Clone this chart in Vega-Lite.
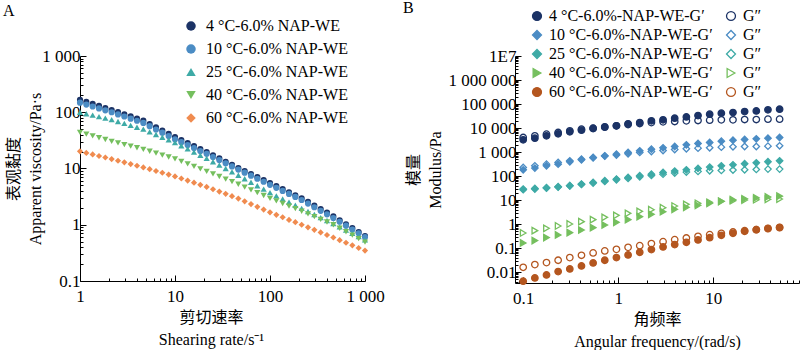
{
"$schema": "https://vega.github.io/schema/vega-lite/v6.json",
"background": "white",
"padding": {"left": 3, "top": 0, "right": 0, "bottom": 0},
"bounds": "flush",
"spacing": 150,
"resolve": {"scale": {"color": "independent", "shape": "independent", "stroke": "independent", "fill": "independent"}, "legend": {"color": "independent", "shape": "independent", "stroke": "independent", "fill": "independent"}},
"config": {
 "font": "Liberation Serif, Noto Sans CJK SC, serif",
 "view": {"stroke": null},
 "axis": {"labelFont": "Liberation Serif, serif", "labelFontSize": 17, "labelColor": "black", "titleFont": "Liberation Serif, Noto Sans CJK SC, serif", "titleFontSize": 16, "titleFontWeight": "normal", "titleColor": "black", "domainColor": "black", "tickColor": "black", "grid": false, "labelFlush": false, "labelOverlap": false, "labelBound": false, "titleLineHeight": 22},
 "legend": {"labelFont": "Liberation Serif, serif", "labelFontSize": 16, "labelColor": "black", "labelLimit": 400},
 "title": {"font": "Liberation Serif, serif", "fontSize": 16, "fontWeight": "normal", "color": "black"}
},
"datasets": {
"a": [
{"r":1,"s":"4","v":166},{"r":1.166,"s":"4","v":152.8},{"r":1.359,"s":"4","v":140.6},{"r":1.585,"s":"4","v":129.4},{"r":1.848,"s":"4","v":119.1},{"r":2.154,"s":"4","v":109.6},{"r":2.512,"s":"4","v":100.5},{"r":2.929,"s":"4","v":92},{"r":3.415,"s":"4","v":84.3},{"r":3.981,"s":"4","v":77.3},{"r":4.642,"s":"4","v":70.8},{"r":5.412,"s":"4","v":61.9},{"r":6.31,"s":"4","v":54.2},{"r":7.356,"s":"4","v":47.4},{"r":8.577,"s":"4","v":41.5},{"r":10,"s":"4","v":36.3},{"r":11.66,"s":"4","v":32.1},{"r":13.59,"s":"4","v":28.3},{"r":15.85,"s":"4","v":25},{"r":18.48,"s":"4","v":22.1},{"r":21.54,"s":"4","v":19.5},{"r":25.12,"s":"4","v":17.1},{"r":29.29,"s":"4","v":15.1},{"r":34.15,"s":"4","v":13.2},{"r":39.81,"s":"4","v":11.6},{"r":46.42,"s":"4","v":10.2},{"r":54.12,"s":"4","v":9.04},{"r":63.1,"s":"4","v":7.98},{"r":73.56,"s":"4","v":7.05},{"r":85.77,"s":"4","v":6.22},{"r":100,"s":"4","v":5.5},{"r":116.6,"s":"4","v":4.85},{"r":135.9,"s":"4","v":4.29},{"r":158.5,"s":"4","v":3.78},{"r":184.8,"s":"4","v":3.34},{"r":215.4,"s":"4","v":2.95},{"r":251.2,"s":"4","v":2.55},{"r":292.9,"s":"4","v":2.2},{"r":341.5,"s":"4","v":1.9},{"r":398.1,"s":"4","v":1.64},{"r":464.2,"s":"4","v":1.41},{"r":541.2,"s":"4","v":1.2},{"r":631,"s":"4","v":1.02},{"r":735.6,"s":"4","v":0.871},{"r":857.7,"s":"4","v":0.741},{"r":1000,"s":"4","v":0.631},
{"r":1,"s":"10","v":147.9},{"r":1.166,"s":"10","v":136.8},{"r":1.359,"s":"10","v":126.5},{"r":1.585,"s":"10","v":116.9},{"r":1.848,"s":"10","v":108.1},{"r":2.154,"s":"10","v":100},{"r":2.512,"s":"10","v":91.6},{"r":2.929,"s":"10","v":83.9},{"r":3.415,"s":"10","v":76.9},{"r":3.981,"s":"10","v":70.5},{"r":4.642,"s":"10","v":64.6},{"r":5.412,"s":"10","v":56.5},{"r":6.31,"s":"10","v":49.4},{"r":7.356,"s":"10","v":43.3},{"r":8.577,"s":"10","v":37.8},{"r":10,"s":"10","v":33.1},{"r":11.66,"s":"10","v":29.4},{"r":13.59,"s":"10","v":26.1},{"r":15.85,"s":"10","v":23.1},{"r":18.48,"s":"10","v":20.5},{"r":21.54,"s":"10","v":18.2},{"r":25.12,"s":"10","v":16},{"r":29.29,"s":"10","v":14.1},{"r":34.15,"s":"10","v":12.4},{"r":39.81,"s":"10","v":10.9},{"r":46.42,"s":"10","v":9.55},{"r":54.12,"s":"10","v":8.43},{"r":63.1,"s":"10","v":7.45},{"r":73.56,"s":"10","v":6.58},{"r":85.77,"s":"10","v":5.81},{"r":100,"s":"10","v":5.13},{"r":116.6,"s":"10","v":4.53},{"r":135.9,"s":"10","v":4},{"r":158.5,"s":"10","v":3.53},{"r":184.8,"s":"10","v":3.12},{"r":215.4,"s":"10","v":2.75},{"r":251.2,"s":"10","v":2.38},{"r":292.9,"s":"10","v":2.05},{"r":341.5,"s":"10","v":1.77},{"r":398.1,"s":"10","v":1.53},{"r":464.2,"s":"10","v":1.32},{"r":541.2,"s":"10","v":1.13},{"r":631,"s":"10","v":0.964},{"r":735.6,"s":"10","v":0.824},{"r":857.7,"s":"10","v":0.705},{"r":1000,"s":"10","v":0.603},
{"r":1,"s":"25","v":100},{"r":1.166,"s":"25","v":94.2},{"r":1.359,"s":"25","v":88.7},{"r":1.585,"s":"25","v":83.6},{"r":1.848,"s":"25","v":78.7},{"r":2.154,"s":"25","v":74.1},{"r":2.512,"s":"25","v":68.5},{"r":2.929,"s":"25","v":63.4},{"r":3.415,"s":"25","v":58.6},{"r":3.981,"s":"25","v":54.2},{"r":4.642,"s":"25","v":50.1},{"r":5.412,"s":"25","v":44.9},{"r":6.31,"s":"25","v":40.2},{"r":7.356,"s":"25","v":36},{"r":8.577,"s":"25","v":32.2},{"r":10,"s":"25","v":28.8},{"r":11.66,"s":"25","v":25.4},{"r":13.59,"s":"25","v":22.3},{"r":15.85,"s":"25","v":19.6},{"r":18.48,"s":"25","v":17.2},{"r":21.54,"s":"25","v":15.1},{"r":25.12,"s":"25","v":13.2},{"r":29.29,"s":"25","v":11.5},{"r":34.15,"s":"25","v":10},{"r":39.81,"s":"25","v":8.71},{"r":46.42,"s":"25","v":7.59},{"r":54.12,"s":"25","v":6.58},{"r":63.1,"s":"25","v":5.7},{"r":73.56,"s":"25","v":4.94},{"r":85.77,"s":"25","v":4.29},{"r":100,"s":"25","v":3.72},{"r":116.6,"s":"25","v":3.27},{"r":135.9,"s":"25","v":2.87},{"r":158.5,"s":"25","v":2.52},{"r":184.8,"s":"25","v":2.22},{"r":215.4,"s":"25","v":1.95},{"r":251.2,"s":"25","v":1.72},{"r":292.9,"s":"25","v":1.52},{"r":341.5,"s":"25","v":1.34},{"r":398.1,"s":"25","v":1.19},{"r":464.2,"s":"25","v":1.05},{"r":541.2,"s":"25","v":0.916},{"r":631,"s":"25","v":0.802},{"r":735.6,"s":"25","v":0.702},{"r":857.7,"s":"25","v":0.614},{"r":1000,"s":"25","v":0.537},
{"r":1,"s":"40","v":43.95},{"r":1.166,"s":"40","v":40.83},{"r":1.359,"s":"40","v":37.93},{"r":1.585,"s":"40","v":35.24},{"r":1.848,"s":"40","v":32.73},{"r":2.154,"s":"40","v":30.41},{"r":2.512,"s":"40","v":28.48},{"r":2.929,"s":"40","v":26.66},{"r":3.415,"s":"40","v":24.96},{"r":3.981,"s":"40","v":23.37},{"r":4.642,"s":"40","v":21.88},{"r":5.412,"s":"40","v":20.23},{"r":6.31,"s":"40","v":18.71},{"r":7.356,"s":"40","v":17.3},{"r":8.577,"s":"40","v":16},{"r":10,"s":"40","v":14.79},{"r":11.66,"s":"40","v":13.37},{"r":13.59,"s":"40","v":12.08},{"r":15.85,"s":"40","v":10.91},{"r":18.48,"s":"40","v":9.86},{"r":21.54,"s":"40","v":8.91},{"r":25.12,"s":"40","v":8.02},{"r":29.29,"s":"40","v":7.21},{"r":34.15,"s":"40","v":6.49},{"r":39.81,"s":"40","v":5.83},{"r":46.42,"s":"40","v":5.25},{"r":54.12,"s":"40","v":4.68},{"r":63.1,"s":"40","v":4.17},{"r":73.56,"s":"40","v":3.72},{"r":85.77,"s":"40","v":3.31},{"r":100,"s":"40","v":2.95},{"r":116.6,"s":"40","v":2.65},{"r":135.9,"s":"40","v":2.39},{"r":158.5,"s":"40","v":2.15},{"r":184.8,"s":"40","v":1.93},{"r":215.4,"s":"40","v":1.74},{"r":251.2,"s":"40","v":1.56},{"r":292.9,"s":"40","v":1.39},{"r":341.5,"s":"40","v":1.25},{"r":398.1,"s":"40","v":1.12},{"r":464.2,"s":"40","v":1},{"r":541.2,"s":"40","v":0.867},{"r":631,"s":"40","v":0.752},{"r":735.6,"s":"40","v":0.652},{"r":857.7,"s":"40","v":0.565},{"r":1000,"s":"40","v":0.49},
{"r":1,"s":"60","v":20.18},{"r":1.166,"s":"60","v":18.95},{"r":1.359,"s":"60","v":17.79},{"r":1.585,"s":"60","v":16.7},{"r":1.848,"s":"60","v":15.68},{"r":2.154,"s":"60","v":14.72},{"r":2.512,"s":"60","v":13.75},{"r":2.929,"s":"60","v":12.85},{"r":3.415,"s":"60","v":12},{"r":3.981,"s":"60","v":11.21},{"r":4.642,"s":"60","v":10.47},{"r":5.412,"s":"60","v":9.73},{"r":6.31,"s":"60","v":9.04},{"r":7.356,"s":"60","v":8.39},{"r":8.577,"s":"60","v":7.8},{"r":10,"s":"60","v":7.24},{"r":11.66,"s":"60","v":6.65},{"r":13.59,"s":"60","v":6.1},{"r":15.85,"s":"60","v":5.6},{"r":18.48,"s":"60","v":5.13},{"r":21.54,"s":"60","v":4.71},{"r":25.12,"s":"60","v":4.28},{"r":29.29,"s":"60","v":3.89},{"r":34.15,"s":"60","v":3.54},{"r":39.81,"s":"60","v":3.22},{"r":46.42,"s":"60","v":2.92},{"r":54.12,"s":"60","v":2.61},{"r":63.1,"s":"60","v":2.33},{"r":73.56,"s":"60","v":2.08},{"r":85.77,"s":"60","v":1.86},{"r":100,"s":"60","v":1.66},{"r":116.6,"s":"60","v":1.5},{"r":135.9,"s":"60","v":1.36},{"r":158.5,"s":"60","v":1.22},{"r":184.8,"s":"60","v":1.11},{"r":215.4,"s":"60","v":1},{"r":251.2,"s":"60","v":0.901},{"r":292.9,"s":"60","v":0.811},{"r":341.5,"s":"60","v":0.731},{"r":398.1,"s":"60","v":0.658},{"r":464.2,"s":"60","v":0.593},{"r":541.2,"s":"60","v":0.532},{"r":631,"s":"60","v":0.478},{"r":735.6,"s":"60","v":0.43},{"r":857.7,"s":"60","v":0.386},{"r":1000,"s":"60","v":0.347}
],
"b": [
{"f":0.1,"k":"4′","v":3220},{"f":0.1327,"k":"4′","v":3780},{"f":0.1759,"k":"4′","v":4730},{"f":0.2333,"k":"4′","v":5730},{"f":0.3095,"k":"4′","v":6930},{"f":0.4106,"k":"4′","v":8130},{"f":0.5446,"k":"4′","v":9540},{"f":0.7224,"k":"4′","v":10800},{"f":0.9582,"k":"4′","v":12300},{"f":1.271,"k":"4′","v":14900},{"f":1.686,"k":"4′","v":16900},{"f":2.236,"k":"4′","v":19900},{"f":2.966,"k":"4′","v":21900},{"f":3.934,"k":"4′","v":25600},{"f":5.218,"k":"4′","v":29100},{"f":6.921,"k":"4′","v":33100},{"f":9.182,"k":"4′","v":37600},{"f":12.18,"k":"4′","v":41400},{"f":16.15,"k":"4′","v":44100},{"f":21.42,"k":"4′","v":48500},{"f":28.42,"k":"4′","v":51700},{"f":37.7,"k":"4′","v":57000},{"f":50,"k":"4′","v":60700},
{"f":0.1,"k":"4″","v":4030},{"f":0.1327,"k":"4″","v":4730},{"f":0.1759,"k":"4″","v":5550},{"f":0.2333,"k":"4″","v":6510},{"f":0.3095,"k":"4″","v":7640},{"f":0.4106,"k":"4″","v":8960},{"f":0.5446,"k":"4″","v":9850},{"f":0.7224,"k":"4″","v":11200},{"f":0.9582,"k":"4″","v":12300},{"f":1.271,"k":"4″","v":14000},{"f":1.686,"k":"4″","v":15400},{"f":2.236,"k":"4″","v":16900},{"f":2.966,"k":"4″","v":18100},{"f":3.934,"k":"4″","v":18700},{"f":5.218,"k":"4″","v":19900},{"f":6.921,"k":"4″","v":20500},{"f":9.182,"k":"4″","v":21200},{"f":12.18,"k":"4″","v":21900},{"f":16.15,"k":"4″","v":21900},{"f":21.42,"k":"4″","v":22600},{"f":28.42,"k":"4″","v":22600},{"f":37.7,"k":"4″","v":23300},{"f":50,"k":"4″","v":23300},
{"f":0.1,"k":"10′","v":182},{"f":0.1327,"k":"10′","v":214},{"f":0.1759,"k":"10′","v":267},{"f":0.2333,"k":"10′","v":313},{"f":0.3095,"k":"10′","v":393},{"f":0.4106,"k":"10′","v":475},{"f":0.5446,"k":"10′","v":575},{"f":0.7224,"k":"10′","v":697},{"f":0.9582,"k":"10′","v":817},{"f":1.271,"k":"10′","v":959},{"f":1.686,"k":"10′","v":1125},{"f":2.236,"k":"10′","v":1320},{"f":2.966,"k":"10′","v":1500},{"f":3.934,"k":"10′","v":1700},{"f":5.218,"k":"10′","v":2000},{"f":6.921,"k":"10′","v":2270},{"f":9.182,"k":"10′","v":2500},{"f":12.18,"k":"10′","v":2840},{"f":16.15,"k":"10′","v":3120},{"f":21.42,"k":"10′","v":3330},{"f":28.42,"k":"10′","v":3550},{"f":37.7,"k":"10′","v":3780},{"f":50,"k":"10′","v":4030},
{"f":0.1,"k":"10″","v":228},{"f":0.1327,"k":"10″","v":267},{"f":0.1759,"k":"10″","v":313},{"f":0.2333,"k":"10″","v":368},{"f":0.3095,"k":"10″","v":431},{"f":0.4106,"k":"10″","v":506},{"f":0.5446,"k":"10″","v":594},{"f":0.7224,"k":"10″","v":675},{"f":0.9582,"k":"10″","v":743},{"f":1.271,"k":"10″","v":844},{"f":1.686,"k":"10″","v":959},{"f":2.236,"k":"10″","v":1055},{"f":2.966,"k":"10″","v":1160},{"f":3.934,"k":"10″","v":1277},{"f":5.218,"k":"10″","v":1360},{"f":6.921,"k":"10″","v":1452},{"f":9.182,"k":"10″","v":1500},{"f":12.18,"k":"10″","v":1597},{"f":16.15,"k":"10″","v":1650},{"f":21.42,"k":"10″","v":1703},{"f":28.42,"k":"10″","v":1703},{"f":37.7,"k":"10″","v":1760},{"f":50,"k":"10″","v":1815},
{"f":0.1,"k":"25′","v":27},{"f":0.1327,"k":"25′","v":28.6},{"f":0.1759,"k":"25′","v":31.5},{"f":0.2333,"k":"25′","v":34.7},{"f":0.3095,"k":"25′","v":39.4},{"f":0.4106,"k":"25′","v":46.2},{"f":0.5446,"k":"25′","v":54.2},{"f":0.7224,"k":"25′","v":63.6},{"f":0.9582,"k":"25′","v":74.6},{"f":1.271,"k":"25′","v":87.5},{"f":1.686,"k":"25′","v":103},{"f":2.236,"k":"25′","v":120},{"f":2.966,"k":"25′","v":141},{"f":3.934,"k":"25′","v":161},{"f":5.218,"k":"25′","v":182},{"f":6.921,"k":"25′","v":207},{"f":9.182,"k":"25′","v":235},{"f":12.18,"k":"25′","v":267},{"f":16.15,"k":"25′","v":294},{"f":21.42,"k":"25′","v":324},{"f":28.42,"k":"25′","v":356},{"f":37.7,"k":"25′","v":394},{"f":50,"k":"25′","v":431},
{"f":0.1,"k":"25″","v":28.6},{"f":0.1327,"k":"25″","v":30.5},{"f":0.1759,"k":"25″","v":32.5},{"f":0.2333,"k":"25″","v":35.8},{"f":0.3095,"k":"25″","v":39.4},{"f":0.4106,"k":"25″","v":44.8},{"f":0.5446,"k":"25″","v":50.9},{"f":0.7224,"k":"25″","v":59.7},{"f":0.9582,"k":"25″","v":70},{"f":1.271,"k":"25″","v":79.6},{"f":1.686,"k":"25″","v":93.3},{"f":2.236,"k":"25″","v":106},{"f":2.966,"k":"25″","v":120},{"f":3.934,"k":"25″","v":133},{"f":5.218,"k":"25″","v":146},{"f":6.921,"k":"25″","v":156},{"f":9.182,"k":"25″","v":166},{"f":12.18,"k":"25″","v":171},{"f":16.15,"k":"25″","v":177},{"f":21.42,"k":"25″","v":182},{"f":28.42,"k":"25″","v":188},{"f":37.7,"k":"25″","v":194},{"f":50,"k":"25″","v":194},
{"f":0.1,"k":"40′","v":0.163},{"f":0.1327,"k":"40′","v":0.204},{"f":0.1759,"k":"40′","v":0.272},{"f":0.2333,"k":"40′","v":0.35},{"f":0.3095,"k":"40′","v":0.438},{"f":0.4106,"k":"40′","v":0.565},{"f":0.5446,"k":"40′","v":0.706},{"f":0.7224,"k":"40′","v":0.912},{"f":0.9582,"k":"40′","v":1.18},{"f":1.271,"k":"40′","v":1.52},{"f":1.686,"k":"40′","v":2.03},{"f":2.236,"k":"40′","v":2.54},{"f":2.966,"k":"40′","v":3.27},{"f":3.934,"k":"40′","v":4.09},{"f":5.218,"k":"40′","v":4.95},{"f":6.921,"k":"40′","v":6},{"f":9.182,"k":"40′","v":7.26},{"f":12.18,"k":"40′","v":8.8},{"f":16.15,"k":"40′","v":10.3},{"f":21.42,"k":"40′","v":11.3},{"f":28.42,"k":"40′","v":12.3},{"f":37.7,"k":"40′","v":13.4},{"f":50,"k":"40′","v":14.5},
{"f":0.1,"k":"40″","v":0.424},{"f":0.1327,"k":"40″","v":0.531},{"f":0.1759,"k":"40″","v":0.664},{"f":0.2333,"k":"40″","v":0.83},{"f":0.3095,"k":"40″","v":1.005},{"f":0.4106,"k":"40″","v":1.256},{"f":0.5446,"k":"40″","v":1.52},{"f":0.7224,"k":"40″","v":1.9},{"f":0.9582,"k":"40″","v":2.3},{"f":1.271,"k":"40″","v":2.79},{"f":1.686,"k":"40″","v":3.38},{"f":2.236,"k":"40″","v":3.96},{"f":2.966,"k":"40″","v":4.8},{"f":3.934,"k":"40″","v":5.62},{"f":5.218,"k":"40″","v":6.6},{"f":6.921,"k":"40″","v":7.26},{"f":9.182,"k":"40″","v":8},{"f":12.18,"k":"40″","v":8.8},{"f":16.15,"k":"40″","v":9.38},{"f":21.42,"k":"40″","v":10},{"f":28.42,"k":"40″","v":10.3},{"f":37.7,"k":"40″","v":10.7},{"f":50,"k":"40″","v":11},
{"f":0.1,"k":"60′","v":0.00415},{"f":0.1327,"k":"60′","v":0.0057},{"f":0.1759,"k":"60′","v":0.0076},{"f":0.2333,"k":"60′","v":0.0105},{"f":0.3095,"k":"60′","v":0.0135},{"f":0.4106,"k":"60′","v":0.018},{"f":0.5446,"k":"60′","v":0.024},{"f":0.7224,"k":"60′","v":0.031},{"f":0.9582,"k":"60′","v":0.04},{"f":1.271,"k":"60′","v":0.0516},{"f":1.686,"k":"60′","v":0.0667},{"f":2.236,"k":"60′","v":0.086},{"f":2.966,"k":"60′","v":0.111},{"f":3.934,"k":"60′","v":0.139},{"f":5.218,"k":"60′","v":0.173},{"f":6.921,"k":"60′","v":0.217},{"f":9.182,"k":"60′","v":0.271},{"f":12.18,"k":"60′","v":0.339},{"f":16.15,"k":"60′","v":0.41},{"f":21.42,"k":"60′","v":0.497},{"f":28.42,"k":"60′","v":0.583},{"f":37.7,"k":"60′","v":0.663},{"f":50,"k":"60′","v":0.73},
{"f":0.1,"k":"60″","v":0.0158},{"f":0.1327,"k":"60″","v":0.0205},{"f":0.1759,"k":"60″","v":0.0248},{"f":0.2333,"k":"60″","v":0.031},{"f":0.3095,"k":"60″","v":0.04},{"f":0.4106,"k":"60″","v":0.05},{"f":0.5446,"k":"60″","v":0.0625},{"f":0.7224,"k":"60″","v":0.0757},{"f":0.9582,"k":"60″","v":0.0887},{"f":1.271,"k":"60″","v":0.1075},{"f":1.686,"k":"60″","v":0.126},{"f":2.236,"k":"60″","v":0.153},{"f":2.966,"k":"60″","v":0.185},{"f":3.934,"k":"60″","v":0.224},{"f":5.218,"k":"60″","v":0.262},{"f":6.921,"k":"60″","v":0.308},{"f":9.182,"k":"60″","v":0.361},{"f":12.18,"k":"60″","v":0.41},{"f":16.15,"k":"60″","v":0.467},{"f":21.42,"k":"60″","v":0.53},{"f":28.42,"k":"60″","v":0.583},{"f":37.7,"k":"60″","v":0.642},{"f":50,"k":"60″","v":0.707}
]
},
"hconcat": [
{
 "width": 285, "height": 225,
 "title": {"text": "A", "anchor": "start", "frame": "group", "dx": -77, "dy": 5},
 "data": {"name": "a"},
 "mark": {"type": "point", "filled": true, "size": 38, "opacity": 1},
 "encoding": {
  "x": {"field": "r", "type": "quantitative", "scale": {"type": "log", "domain": [1, 1000], "nice": false},
   "axis": {"values": [1,2,3,4,5,6,7,8,9,10,20,30,40,50,60,70,80,90,100,200,300,400,500,600,700,800,900,1000],
    "labelExpr": "abs(log(datum.value)/LN10 - round(log(datum.value)/LN10)) < 0.001 ? replace(format(datum.value, ','), /,/g, ' ') : ''",
    "tickSize": {"condition": {"test": "abs(log(datum.value)/LN10 - round(log(datum.value)/LN10)) < 0.001", "value": -6}, "value": -3},
    "labelPadding": 13, "title": ["剪切速率", "Shearing rate/s⁻¹"], "titlePadding": 2.5, "titleX": 131}},
  "y": {"field": "v", "type": "quantitative", "scale": {"type": "log", "domain": [0.1, 1000], "nice": false},
   "axis": {"values": [0.1,0.2,0.3,0.4,0.5,0.6,0.7,0.8,0.9,1,2,3,4,5,6,7,8,9,10,20,30,40,50,60,70,80,90,100,200,300,400,500,600,700,800,900,1000],
    "labelExpr": "abs(log(datum.value)/LN10 - round(log(datum.value)/LN10)) < 0.001 ? replace(format(datum.value, ','), /,/g, ' ') : ''",
    "tickSize": {"condition": {"test": "abs(log(datum.value)/LN10 - round(log(datum.value)/LN10)) < 0.001", "value": -6}, "value": -3},
    "labelPadding": 6, "title": ["表观黏度", "Apparent viscosity/Pa·s"], "titlePadding": -2}},
  "color": {"field": "s", "type": "nominal", "scale": {"domain": ["4","10","25","40","60"], "range": ["#1c3366","#4b8cc4","#3eaaa6","#75bf5e","#f08b4f"]},
   "legend": {"orient": "none", "legendX": 103, "legendY": -38, "title": null, "padding": 0, "rowPadding": 7, "labelOffset": 7, "symbolSize": 90, "symbolOpacity": 1,
    "labelExpr": "datum.label + ' °C-6.0% NAP-WE'"}},
  "shape": {"field": "s", "type": "nominal", "scale": {"domain": ["4","10","25","40","60"], "range": ["circle","circle","triangle-up","triangle-down","diamond"]}}
 }
},
{
 "width": 284, "height": 227,
 "title": {"text": "B", "anchor": "start", "frame": "group", "dx": -112, "dy": 12},
 "data": {"name": "b"},
 "mark": {"type": "point", "size": 42, "strokeWidth": 1.3, "opacity": 1},
 "encoding": {
  "x": {"field": "f", "type": "quantitative", "scale": {"type": "log", "domain": [0.082, 80], "nice": false},
   "axis": {"values": [0.09,0.1,0.2,0.3,0.4,0.5,0.6,0.7,0.8,0.9,1,2,3,4,5,6,7,8,9,10,20,30,40,50,60,70,80],
    "labelExpr": "abs(log(datum.value)/LN10 - round(log(datum.value)/LN10)) < 0.001 ? replace(format(datum.value, ','), /,/g, ' ') : ''",
    "tickSize": {"condition": {"test": "abs(log(datum.value)/LN10 - round(log(datum.value)/LN10)) < 0.001", "value": -6}, "value": -3},
    "labelPadding": 13, "title": ["角频率", "Angular frequency/(rad/s)"], "titlePadding": 2.5}},
  "y": {"field": "v", "type": "quantitative", "scale": {"type": "log", "domain": [0.0035, 10000000], "nice": false},
   "axis": {"values": [0.004,0.005,0.006,0.007,0.008,0.009,0.01,0.02,0.03,0.04,0.05,0.06,0.07,0.08,0.09,0.1,0.2,0.3,0.4,0.5,0.6,0.7,0.8,0.9,1,2,3,4,5,6,7,8,9,10,20,30,40,50,60,70,80,90,100,200,300,400,500,600,700,800,900,1000,2000,3000,4000,5000,6000,7000,8000,9000,10000,20000,30000,40000,50000,60000,70000,80000,90000,100000,200000,300000,400000,500000,600000,700000,800000,900000,1000000,2000000,3000000,4000000,5000000,6000000,7000000,8000000,9000000,10000000],
    "labelExpr": "abs(log(datum.value)/LN10 - round(log(datum.value)/LN10)) < 0.001 ? (datum.value >= 9999999 ? '1E7' : replace(format(datum.value, ','), /,/g, ' ')) : ''",
    "tickSize": {"condition": {"test": "abs(log(datum.value)/LN10 - round(log(datum.value)/LN10)) < 0.001", "value": -6}, "value": -3},
    "labelPadding": 5, "title": ["模量", "Modulus/Pa"], "titlePadding": 5}},
  "stroke": {"field": "k", "type": "nominal", "scale": {"domain": ["4′","10′","25′","40′","60′","4″","10″","25″","40″","60″"], "range": ["#1c3366","#4b8cc4","#3eaaa6","#75bf5e","#b4561f","#1c3366","#4b8cc4","#3eaaa6","#75bf5e","#b4561f"]},
   "legend": {"orient": "none", "legendX": 14, "legendY": -48, "title": null, "padding": 0, "columns": 2, "columnPadding": 10, "rowPadding": 3, "labelOffset": 4, "symbolSize": 80, "symbolStrokeWidth": 1.3, "symbolOpacity": 1,
    "labelExpr": "indexof(datum.label, '″') >= 0 ? 'G″' : replace(datum.label, '′', ' °C-6.0%-NAP-WE-G′')"}},
  "fill": {"field": "k", "type": "nominal", "scale": {"domain": ["4′","10′","25′","40′","60′","4″","10″","25″","40″","60″"], "range": ["#1c3366","#4b8cc4","#3eaaa6","#75bf5e","#b4561f","transparent","transparent","transparent","transparent","transparent"]}},
  "shape": {"field": "k", "type": "nominal", "scale": {"domain": ["4′","10′","25′","40′","60′","4″","10″","25″","40″","60″"], "range": ["circle","diamond","diamond","triangle-right","circle","circle","diamond","diamond","triangle-right","circle"]}}
 }
}
]
}
